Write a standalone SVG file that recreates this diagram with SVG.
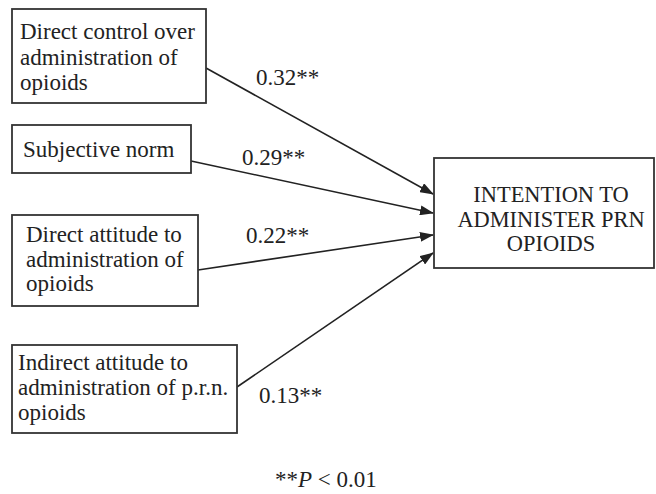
<svg xmlns="http://www.w3.org/2000/svg" width="656" height="494" viewBox="0 0 656 494">
<style>
.box{fill:#fff;stroke:#333;stroke-width:1.8}
.t{font-family:"Liberation Serif","Times New Roman",serif;font-size:23px;fill:#222}
.tt{font-family:"Liberation Serif","Times New Roman",serif;font-size:22.4px;fill:#222;text-anchor:middle}
.lbl{font-family:"Liberation Serif","Times New Roman",serif;font-size:23px;fill:#222}
.edge{stroke:#222;stroke-width:1.6;fill:none;marker-end:url(#ah)}
</style>
<defs>
<marker id="ah" markerWidth="14" markerHeight="10" refX="13" refY="5" orient="auto" markerUnits="userSpaceOnUse">
<path d="M0,0 L14,5 L0,10 Z" fill="#222"/>
</marker>
</defs>
<rect width="656" height="494" fill="#fff"/>
<g id="connectors">
<line class="edge" x1="206" y1="68" x2="433" y2="194"/>
<line class="edge" x1="191" y1="161" x2="433" y2="213"/>
<line class="edge" x1="198" y1="270" x2="433" y2="235"/>
<line class="edge" x1="237" y1="387" x2="433" y2="253"/>
<text class="lbl" x="256" y="85">0.32**</text>
<text class="lbl" x="242" y="165">0.29**</text>
<text class="lbl" x="246" y="243">0.22**</text>
<text class="lbl" x="259" y="403">0.13**</text>
</g>
<g id="n1">
<rect class="box" x="12" y="9" width="194" height="94"/>
<text class="t" x="20" y="39">Direct control over</text>
<text class="t" x="20" y="65">administration of</text>
<text class="t" x="20" y="90">opioids</text>
</g>
<g id="n2">
<rect class="box" x="12" y="125" width="179" height="48"/>
<text class="t" x="23" y="157">Subjective norm</text>
</g>
<g id="n3">
<rect class="box" x="12" y="215" width="186" height="91"/>
<text class="t" x="26" y="242">Direct attitude to</text>
<text class="t" x="26" y="267">administration of</text>
<text class="t" x="26" y="291">opioids</text>
</g>
<g id="n4">
<rect class="box" x="12" y="345" width="225" height="88"/>
<text class="t" x="18" y="370">Indirect attitude to</text>
<text class="t" x="18" y="395">administration of p.r.n.</text>
<text class="t" x="18" y="420">opioids</text>
</g>
<g id="target">
<rect class="box" x="434" y="158" width="220" height="110"/>
<text class="tt" x="551" y="202">INTENTION TO</text>
<text class="tt" x="551" y="227">ADMINISTER PRN</text>
<text class="tt" x="551" y="251">OPIOIDS</text>
</g>
<text class="lbl" x="275" y="487">**<tspan font-style="italic">P</tspan> &lt; 0.01</text>
</svg>
